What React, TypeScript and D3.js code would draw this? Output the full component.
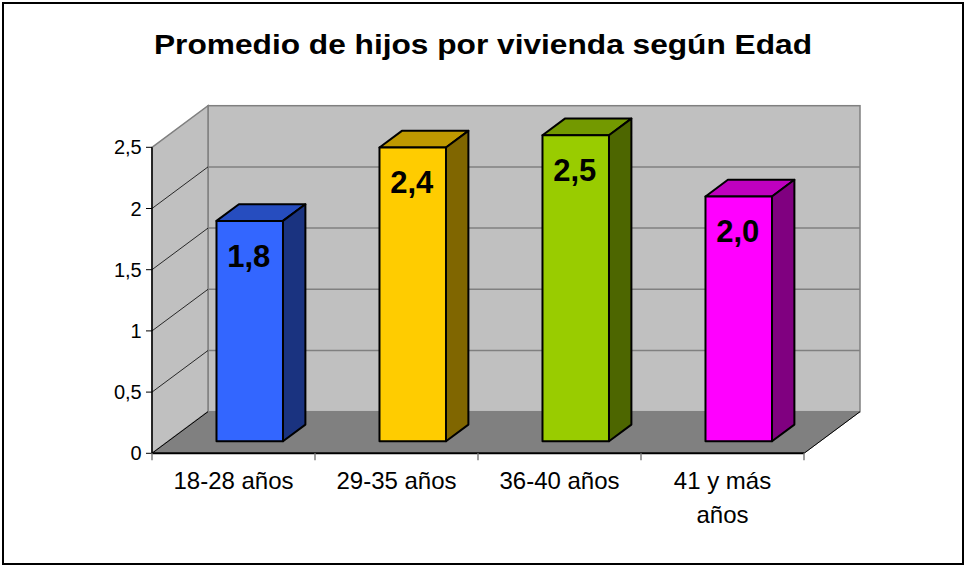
import * as d3 from "d3";

const categories = ["18-28 años", "29-35 años", "36-40 años", "41 y más\naños"];
const values = [1.8, 2.4, 2.5, 2.0];
const valueLabels = ["1,8", "2,4", "2,5", "2,0"];
const yTicks = [0, 0.5, 1, 1.5, 2, 2.5];
const yTickLabels = ["0", "0,5", "1", "1,5", "2", "2,5"];
const frontColors = ["#3366FF", "#FFCC00", "#99CC00", "#FF00FF"];

const FONT = "'Liberation Sans', Arial, sans-serif";

const App = () => {
    const width = 965;
    const height = 566;

    // front plane of the 3d box
    const x = d3.scaleBand<string>().domain(categories).range([152, 804]);
    const y = d3.scaleLinear().domain([0, 2.5]).range([453.3, 147.3]);

    // depth vector (front -> back)
    const dx = 56;
    const dy = -41.6;
    const d0 = 0.29; // bar front depth fraction
    const d1 = 0.69; // bar back depth fraction
    const barW = 66.5;

    const x0 = x.range()[0];
    const x1 = x.range()[1];
    const yTop = y(2.5);
    const yBot = y(0);

    const shade = (c: string, k: number) => {
        const col = d3.rgb(c);
        return d3.rgb(col.r * k, col.g * k, col.b * k).formatHex();
    };

    const pts = (arr: number[][]) => arr.map((p) => p.join(",")).join(" ");

    return (
        <svg width={width} height={height} style={{ position: "absolute", left: 0, top: 0 }}>
            <rect x={0} y={0} width={width} height={height} fill="#ffffff" />
            <rect x={3} y={3} width={960} height={561} fill="none" stroke="#000" strokeWidth={2} />

            <text x={483} y={54} textAnchor="middle" fontFamily={FONT} fontWeight="bold"
                fontSize={28} textLength={658} lengthAdjust="spacingAndGlyphs">
                Promedio de hijos por vivienda según Edad
            </text>

            {/* back wall */}
            <rect x={x0 + dx} y={yTop + dy} width={x1 - x0} height={yBot - yTop}
                fill="#C0C0C0" stroke="#808080" strokeWidth={1.5} />
            {/* left wall */}
            <polygon points={pts([[x0, yTop], [x0 + dx, yTop + dy], [x0 + dx, yBot + dy], [x0, yBot]])}
                fill="#C0C0C0" stroke="#808080" strokeWidth={1.5} />
            {/* floor */}
            <polygon points={pts([[x0, yBot], [x0 + dx, yBot + dy], [x1 + dx, yBot + dy], [x1, yBot]])}
                fill="#808080" stroke="#808080" strokeWidth={1} />
            <line x1={x0} y1={yBot} x2={x0 + dx} y2={yBot + dy} stroke="#000" strokeWidth={1} />
            <line x1={x1} y1={yBot} x2={x1 + dx} y2={yBot + dy} stroke="#000" strokeWidth={1} />

            {/* gridlines */}
            {yTicks.filter((t) => t > 0 && t < 2.5).map((t) => (
                <g key={"g" + t}>
                    <line x1={x0 + dx} y1={y(t) + dy} x2={x1 + dx} y2={y(t) + dy} stroke="#808080" strokeWidth={1.5} />
                    <line x1={x0} y1={y(t)} x2={x0 + dx} y2={y(t) + dy} stroke="#000" strokeWidth={0.8} />
                </g>
            ))}

            {/* y axis */}
            <line x1={x0} y1={yTop} x2={x0} y2={yBot} stroke="#000" strokeWidth={1.5} />
            {yTicks.map((t, i) => (
                <g key={"y" + t}>
                    <line x1={x0 - 6} y1={y(t)} x2={x0} y2={y(t)} stroke="#000" strokeWidth={1} />
                    <text x={141.7} y={y(t) + 7} textAnchor="end" fontFamily={FONT} fontSize={20}>
                        {yTickLabels[i]}
                    </text>
                </g>
            ))}

            {/* x axis */}
            <line x1={x0} y1={yBot} x2={x1} y2={yBot} stroke="#000" strokeWidth={2} />
            {categories.map((c) => x(c)!).concat([x1]).map((px, i) => (
                <line key={"xt" + i} x1={px} y1={yBot} x2={px} y2={yBot + 7} stroke="#808080" strokeWidth={1.5} />
            ))}
            {categories.map((c) => (
                <text key={"xl" + c} x={x(c)! + x.bandwidth() / 2} y={489} textAnchor="middle"
                    fontFamily={FONT} fontSize={24}>
                    {c.split("\n").map((line, j) => (
                        <tspan key={j} x={x(c)! + x.bandwidth() / 2} dy={j === 0 ? 0 : 34}>{line}</tspan>
                    ))}
                </text>
            ))}

            {/* bars */}
            {categories.map((c, i) => {
                const cx = x(c)! + x.bandwidth() / 2;
                const fx0 = cx - barW / 2 + dx * d0;
                const fx1 = cx + barW / 2 + dx * d0;
                const fyB = y(0) + dy * d0;
                const fyT = y(values[i]) + dy * d0;
                const ox = dx * (d1 - d0);
                const oy = dy * (d1 - d0);
                const col = frontColors[i];
                return (
                    <g key={"b" + c} stroke="#000" strokeWidth={2} strokeLinejoin="round">
                        <polygon points={pts([[fx0, fyT], [fx0 + ox, fyT + oy], [fx1 + ox, fyT + oy], [fx1, fyT]])}
                            fill={shade(col, 0.75)} />
                        <polygon points={pts([[fx1, fyT], [fx1 + ox, fyT + oy], [fx1 + ox, fyB + oy], [fx1, fyB]])}
                            fill={shade(col, 0.5)} />
                        <rect x={fx0} y={fyT} width={fx1 - fx0} height={fyB - fyT} fill={col} />
                        <text x={(fx0 + fx1) / 2 - 1} y={fyT + 46} textAnchor="middle" stroke="none"
                            fill="#000" fontFamily={FONT} fontWeight="bold" fontSize={31}>
                            {valueLabels[i]}
                        </text>
                    </g>
                );
            })}
        </svg>
    );
};

export default App;
